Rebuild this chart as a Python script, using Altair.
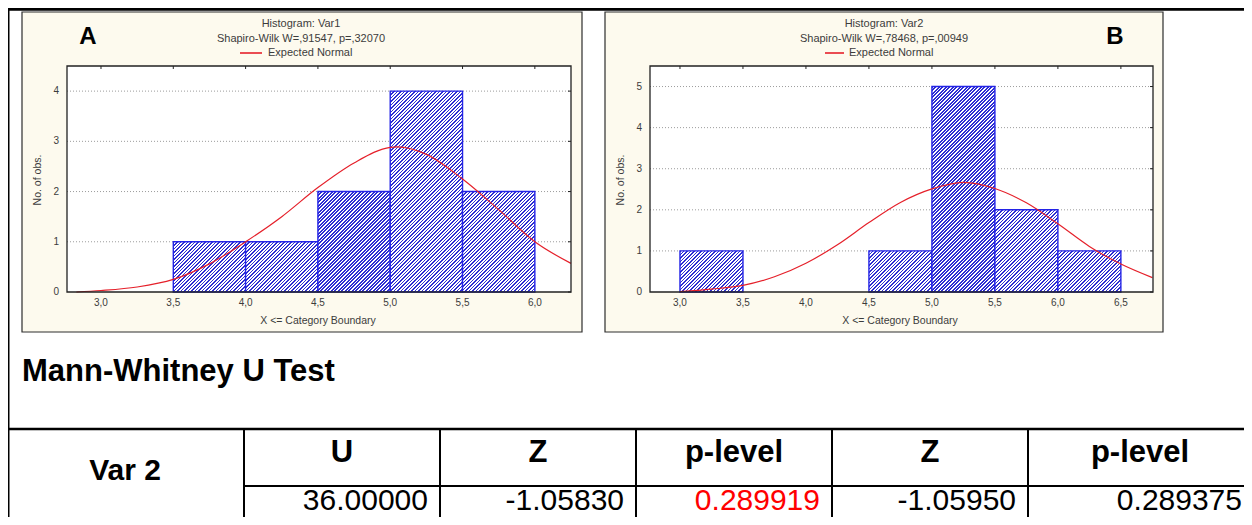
import altair as alt
import pandas as pd

# ---------------- data ----------------
a_bin_lo = [3.5, 4.0, 4.5, 5.0, 5.5]
a_bin_hi = [4.0, 4.5, 5.0, 5.5, 6.0]
a_counts = [1, 1, 2, 4, 2]
a_curve_x = [2.83, 3.0, 3.25, 3.5, 3.75, 4.0, 4.25, 4.5, 4.75, 5.0, 5.05, 5.25, 5.5, 5.75, 6.0, 6.25]
a_curve_y = [0.0, 0.03, 0.10, 0.25, 0.56, 1.0, 1.5, 2.08, 2.57, 2.88, 2.89, 2.74, 2.25, 1.64, 1.0, 0.57]
a_xticks = [3.0, 3.5, 4.0, 4.5, 5.0, 5.5, 6.0]
a_yticks = [0, 1, 2, 3, 4]

b_bin_lo = [3.0, 4.5, 5.0, 5.5, 6.0]
b_bin_hi = [3.5, 5.0, 5.5, 6.0, 6.5]
b_counts = [1, 1, 5, 2, 1]
b_curve_x = [3.0, 3.25, 3.5, 3.75, 4.0, 4.25, 4.5, 4.75, 5.0, 5.25, 5.5, 5.75, 6.0, 6.25, 6.5, 6.75]
b_curve_y = [0.01, 0.07, 0.16, 0.37, 0.70, 1.15, 1.69, 2.18, 2.51, 2.67, 2.52, 2.17, 1.66, 1.11, 0.68, 0.35]
b_xticks = [3.0, 3.5, 4.0, 4.5, 5.0, 5.5, 6.0, 6.5]
b_yticks = [0, 1, 2, 3, 4, 5]

a_title = "Histogram: Var1"
a_sw = "Shapiro-Wilk W=,91547, p=,32070"
b_title = "Histogram: Var2"
b_sw = "Shapiro-Wilk W=,78468, p=,00949"
legend_label = "Expected Normal"
x_title = "X <= Category Boundary"
y_title = "No. of obs."

table_title = "Mann-Whitney U Test"
row_label = "Var 2"
headers = ["U", "Z", "p-level", "Z", "p-level"]
values = ["36.00000", "-1.05830", "0.289919", "-1.05950", "0.289375"]
value_colors = ["#000000", "#000000", "#ff0000", "#000000", "#000000"]

# ---------------- layout (pixels) ----------------
W, H = 1236, 509
FONT = "Liberation Sans"
GREY_TXT = "#3c3c3c"
ONE = pd.DataFrame({"k": [0]})

panels = [
    dict(letter="A", letter_x=80, box=(14, 4, 574, 324), xr=(59, 563), yr=(284, 58),
         xd=(2.765, 6.25), yd=(0, 4.5), lo=a_bin_lo, hi=a_bin_hi, n=a_counts,
         cx=a_curve_x, cy=a_curve_y, xt=a_xticks, yt=a_yticks, title=a_title, sw=a_sw,
         tcx=293, leg=(232, 254), legx=260, xtitle_x=310, ytitle_x=30),
    dict(letter="B", letter_x=1107, box=(597, 4, 1155, 324), xr=(642, 1145), yr=(284, 58),
         xd=(2.762, 6.755), yd=(0, 5.5), lo=b_bin_lo, hi=b_bin_hi, n=b_counts,
         cx=b_curve_x, cy=b_curve_y, xt=b_xticks, yt=b_yticks, title=b_title, sw=b_sw,
         tcx=876, leg=(817, 836), legx=841, xtitle_x=892, ytitle_x=613),
]


def box(x1, y1, x2, y2, fill, stroke, sw=1.0, fill_opacity=1.0):
    return alt.Chart(ONE).mark_rect(fill=fill, fillOpacity=fill_opacity, stroke=stroke,
                                    strokeWidth=sw).encode(
        x=alt.value(x1), x2=alt.value(x2), y=alt.value(y1), y2=alt.value(y2))


def hrule(y, x1, x2, w, color="black"):
    return alt.Chart(ONE).mark_rule(color=color, strokeWidth=w).encode(
        x=alt.value(x1), x2=alt.value(x2), y=alt.value(y))


def vrule(x, y1, y2, w, color="black"):
    return alt.Chart(ONE).mark_rule(color=color, strokeWidth=w).encode(
        x=alt.value(x), y=alt.value(y1), y2=alt.value(y2))


def txt(s, x, y, size, weight="normal", align="center", baseline="middle",
        color="black", angle=0):
    return alt.Chart(ONE).mark_text(text=s, font=FONT, fontSize=size, fontWeight=weight,
                                    align=align, baseline=baseline, color=color,
                                    angle=angle).encode(x=alt.value(x), y=alt.value(y))


def hatch(w, h, period=3.5, line=1.6, color="#2e2ed2", bg="#ffffff"):
    total = w + h
    stops = []
    i = 0
    while i * period < total:
        s = i * period / total
        e = min((i * period + line) / total, 1.0)
        nxt = min((i + 1) * period / total, 1.0)
        stops += [{"offset": s, "color": color}, {"offset": e, "color": color},
                  {"offset": e, "color": bg}, {"offset": nxt, "color": bg}]
        i += 1
    k = total / (w * w + h * h)
    return {"gradient": "linear", "x1": 0, "y1": 0, "x2": k * w, "y2": k * h, "stops": stops}


label_expr = "replace(format(datum.t, '.1f'), '.', ',')"

layers = []
# outer frame lines
layers.append(hrule(1.3, 0, W, 3))
layers.append(vrule(0.5, 0, H, 2))

for p in panels:
    x1, y1, x2, y2 = p["box"]
    xs = alt.Scale(domain=list(p["xd"]), range=list(p["xr"]), nice=False, zero=False)
    ys = alt.Scale(domain=list(p["yd"]), range=list(p["yr"]), nice=False, zero=False)
    px = (p["xr"][1] - p["xr"][0]) / (p["xd"][1] - p["xd"][0])
    py = (p["yr"][0] - p["yr"][1]) / (p["yd"][1] - p["yd"][0])

    # panel background and plot area
    layers.append(box(x1, y1, x2, y2, "#fdfaee", "#2e2e2e", 1.2))
    layers.append(box(p["xr"][0], p["yr"][1], p["xr"][1], p["yr"][0], "#ffffff", "#ffffff", 0.1))

    # dotted grid lines at the y ticks
    grid_df = pd.DataFrame({"g": p["yt"][1:]})
    layers.append(alt.Chart(grid_df).mark_rule(color="#9c9c9c", strokeDash=[1, 2], strokeWidth=1).encode(
        x=alt.value(p["xr"][0]), x2=alt.value(p["xr"][1]),
        y=alt.Y("g:Q", scale=ys, axis=None)))

    # hatched bars
    bars = pd.DataFrame({"lo": p["lo"], "hi": p["hi"], "n": p["n"], "i": list(range(len(p["n"])))})
    for i in range(len(p["n"])):
        w = (p["hi"][i] - p["lo"][i]) * px
        h = p["n"][i] * py
        layers.append(alt.Chart(bars).transform_filter(alt.datum.i == i).mark_rect(
            fill=hatch(w, h), stroke="#2323e6", strokeWidth=1.4).encode(
            x=alt.X("lo:Q", scale=xs, axis=None), x2="hi:Q",
            y=alt.Y("n:Q", scale=ys, axis=None), y2=alt.datum(0)))

    # expected normal curve
    curve = pd.DataFrame({"x": p["cx"], "y": p["cy"]})
    layers.append(alt.Chart(curve).mark_line(color="#e5202a", strokeWidth=1.2,
                                             interpolate="monotone").encode(
        x=alt.X("x:Q", scale=xs, axis=None),
        y=alt.Y("y:Q", scale=ys, axis=None),
        order=alt.Order("x:Q")))

    # plot frame
    layers.append(box(p["xr"][0], p["yr"][1], p["xr"][1], p["yr"][0], "#ffffff", "#222222", 1.3, 0))

    # tick labels through the scales
    xt_df = pd.DataFrame({"t": p["xt"]})
    layers.append(alt.Chart(xt_df).transform_calculate(lab=label_expr).mark_text(
        font=FONT, fontSize=10, color=GREY_TXT, baseline="middle").encode(
        x=alt.X("t:Q", scale=xs, axis=None), y=alt.value(p["yr"][0] + 11), text="lab:N"))
    # small tick marks at the top edge
    layers.append(alt.Chart(xt_df).mark_rule(color="#222222", strokeWidth=1).encode(
        x=alt.X("t:Q", scale=xs, axis=None), y=alt.value(p["yr"][1]), y2=alt.value(p["yr"][1] + 3)))
    yt_df = pd.DataFrame({"t": p["yt"]})
    layers.append(alt.Chart(yt_df).mark_text(
        font=FONT, fontSize=10, color=GREY_TXT, align="right", baseline="middle").encode(
        y=alt.Y("t:Q", scale=ys, axis=None), x=alt.value(p["xr"][0] - 8), text="t:N"))
    # small tick marks at the right edge
    layers.append(alt.Chart(yt_df).mark_rule(color="#222222", strokeWidth=1).encode(
        y=alt.Y("t:Q", scale=ys, axis=None), x=alt.value(p["xr"][1] - 3), x2=alt.value(p["xr"][1])))

    # axis titles
    layers.append(txt(x_title, p["xtitle_x"], p["yr"][0] + 29, 10.5, color=GREY_TXT))
    layers.append(txt(y_title, p["ytitle_x"], 172, 10.5, color=GREY_TXT, angle=270))

    # titles and legend
    layers.append(txt(p["title"], p["tcx"], 16, 11, color=GREY_TXT))
    layers.append(txt(p["sw"], p["tcx"], 31, 11, color=GREY_TXT))
    layers.append(hrule(45, p["leg"][0], p["leg"][1], 1.6, color="#e5202a"))
    layers.append(txt(legend_label, p["legx"], 45, 11, align="left", color=GREY_TXT))
    layers.append(txt(p["letter"], p["letter_x"], 36, 24, weight="bold", baseline="alphabetic"))

# ---------------- table ----------------
layers.append(txt(table_title, 14, 373, 31, weight="bold", align="left", baseline="alphabetic"))
layers.append(hrule(421, 0, W, 2.5))
col_edges = [236, 432, 628, 824, 1020]
for cx in col_edges:
    layers.append(vrule(cx, 421, H, 2))
layers.append(hrule(478, 236, W, 2))
layers.append(txt(row_label, 117, 472, 30, weight="bold", baseline="alphabetic"))
header_x = [334, 530, 726, 922, 1132]
value_right = [420, 616, 812, 1008, 1234]
for hx, s in zip(header_x, headers):
    layers.append(txt(s, hx, 454, 31, weight="bold", baseline="alphabetic"))
for vx, s, c in zip(value_right, values, value_colors):
    layers.append(txt(s, vx, 502, 30, align="right", baseline="alphabetic", color=c))

chart = alt.layer(*layers).resolve_scale(x="independent", y="independent").properties(
    width=W, height=H, padding=0, autosize=alt.AutoSizeParams(type="none"),
    background="white").configure_view(stroke="transparent")

chart.save("out.html", embed_options={"renderer": "svg", "actions": False})
